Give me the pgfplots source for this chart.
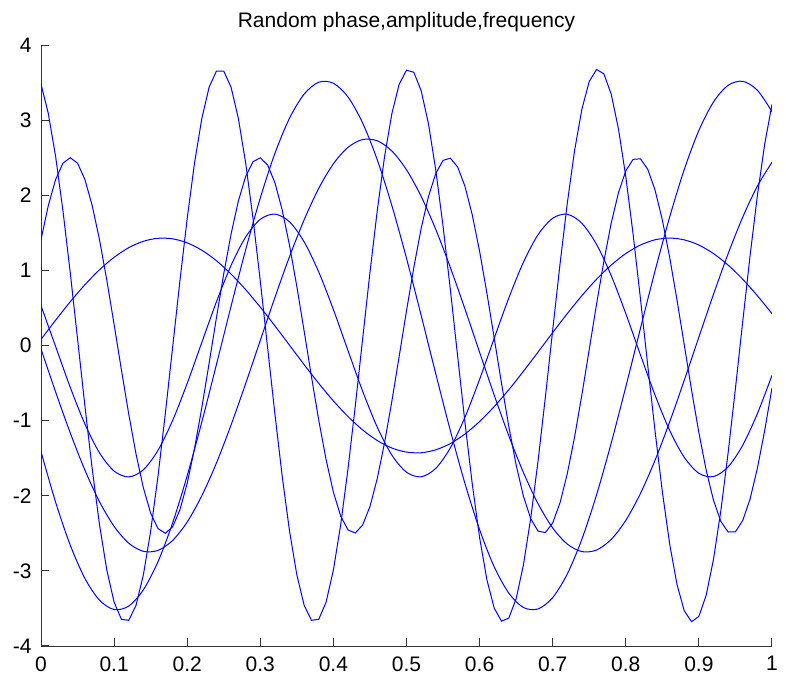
\documentclass[border=0pt]{standalone}
\usepackage{fontspec}
\setmainfont{Liberation Sans}
\usepackage{pgfplots}
\pgfplotsset{compat=1.18}
\begin{document}
\fontsize{10.5}{12.6}\selectfont
\begin{tikzpicture}
\begin{axis}[
  scale only axis,
  width=365.5pt, height=300.5pt,
  xmin=0, xmax=1, ymin=-4, ymax=4,
  axis x line=bottom, axis y line=left,
  axis line style={-, black!80},
  tick align=inside,
  major tick length=4pt,
  tick style={black!80, line width=0.5pt},
  xtick={0,0.1,0.2,0.3,0.4,0.5,0.6,0.7,0.8,0.9,1},
  xticklabels={0,0.1,0.2,0.3,0.4,0.5,0.6,0.7,0.8,0.9,1},
  ytick={-4,-3,-2,-1,0,1,2,3,4},
  yticklabels={-4,-3,-2,-1,0,1,2,3,4},
  xticklabel style={yshift=-1.5pt},
  yticklabel style={xshift=-1pt},
  title={Random phase,amplitude,frequency},
  title style={at={(0.5,1)}, anchor=base, yshift=3pt},
  cycle list={{blue, line width=0.5pt, mark=none}},
]
% fast curve, amplitude about 3.68
\addplot[blue, line width=0.5pt, mark=none] coordinates {
(0.00,3.478) (0.01,3.087) (0.02,2.515) (0.03,1.795) (0.04,0.970) (0.05,0.087) (0.06,-0.800) (0.07,-1.640) (0.08,-2.384) (0.09,-2.989)
(0.10,-3.417) (0.11,-3.645) (0.12,-3.659) (0.13,-3.459) (0.14,-3.055) (0.15,-2.472) (0.16,-1.744) (0.17,-0.913) (0.18,-0.029) (0.19,0.857)
(0.20,1.693) (0.21,2.429) (0.22,3.022) (0.23,3.439) (0.24,3.653) (0.25,3.653) (0.26,3.438) (0.27,3.022) (0.28,2.429) (0.29,1.693)
(0.30,0.857) (0.31,-0.029) (0.32,-0.913) (0.33,-1.744) (0.34,-2.472) (0.35,-3.055) (0.36,-3.459) (0.37,-3.659) (0.38,-3.645) (0.39,-3.417)
(0.40,-2.989) (0.41,-2.384) (0.42,-1.640) (0.43,-0.800) (0.44,0.088) (0.45,0.970) (0.46,1.795) (0.47,2.515) (0.48,3.087) (0.49,3.478)
(0.50,3.665) (0.51,3.637) (0.52,3.395) (0.53,2.954) (0.54,2.340) (0.55,1.588) (0.56,0.743) (0.57,-0.146) (0.58,-1.026) (0.59,-1.846)
(0.60,-2.557) (0.61,-3.119) (0.62,-3.497) (0.63,-3.670) (0.64,-3.628) (0.65,-3.372) (0.66,-2.919) (0.67,-2.296) (0.68,-1.535) (0.69,-0.686)
(0.70,0.204) (0.71,1.082) (0.72,1.896) (0.73,2.599) (0.74,3.149) (0.75,3.515) (0.76,3.674) (0.77,3.617) (0.78,3.348) (0.79,2.883)
(0.80,2.248) (0.81,1.482) (0.82,0.628) (0.83,-0.262) (0.84,-1.137) (0.85,-1.946) (0.86,-2.641) (0.87,-3.179) (0.88,-3.532) (0.89,-3.677)
(0.90,-3.606) (0.91,-3.324) (0.92,-2.846) (0.93,-2.202) (0.94,-1.428) (0.95,-0.571) (0.96,0.321) (0.97,1.193) (0.98,1.995) (0.99,2.680)
(1.00,3.208)
};
% fast curve, amplitude about 2.5
\addplot[blue, line width=0.5pt, mark=none] coordinates {
(0.00,1.409) (0.01,1.864) (0.02,2.210) (0.03,2.427) (0.04,2.500) (0.05,2.427) (0.06,2.211) (0.07,1.864) (0.08,1.409) (0.09,0.870)
(0.10,0.280) (0.11,-0.325) (0.12,-0.913) (0.13,-1.446) (0.14,-1.894) (0.15,-2.232) (0.16,-2.437) (0.17,-2.500) (0.18,-2.415) (0.19,-2.189)
(0.20,-1.834) (0.21,-1.371) (0.22,-0.828) (0.23,-0.235) (0.24,0.371) (0.25,0.955) (0.26,1.483) (0.27,1.924) (0.28,2.251) (0.29,2.447)
(0.30,2.498) (0.31,2.403) (0.32,2.167) (0.33,1.803) (0.34,1.333) (0.35,0.784) (0.36,0.190) (0.37,-0.416) (0.38,-0.997) (0.39,-1.519)
(0.40,-1.953) (0.41,-2.271) (0.42,-2.456) (0.43,-2.496) (0.44,-2.390) (0.45,-2.144) (0.46,-1.771) (0.47,-1.293) (0.48,-0.741) (0.49,-0.144)
(0.50,0.461) (0.51,1.038) (0.52,1.555) (0.53,1.981) (0.54,2.289) (0.55,2.464) (0.56,2.493) (0.57,2.376) (0.58,2.119) (0.59,1.738)
(0.60,1.255) (0.61,0.697) (0.62,0.099) (0.63,-0.505) (0.64,-1.080) (0.65,-1.591) (0.66,-2.008) (0.67,-2.307) (0.68,-2.471) (0.69,-2.490)
(0.70,-2.362) (0.71,-2.095) (0.72,-1.705) (0.73,-1.215) (0.74,-0.653) (0.75,-0.053) (0.76,0.550) (0.77,1.120) (0.78,1.626) (0.79,2.035)
(0.80,2.325) (0.81,2.478) (0.82,2.485) (0.83,2.347) (0.84,2.070) (0.85,1.671) (0.86,1.175) (0.87,0.609) (0.88,0.008) (0.89,-0.594)
(0.90,-1.162) (0.91,-1.660) (0.92,-2.061) (0.93,-2.341) (0.94,-2.483) (0.95,-2.480) (0.96,-2.330) (0.97,-2.044) (0.98,-1.636) (0.99,-1.134)
(1.00,-0.565)
};
% amplitude about 3.5
\addplot[blue, line width=0.5pt, mark=none, smooth] coordinates {
(0.00,-1.413) (0.02,-2.087) (0.04,-2.658) (0.06,-3.100) (0.08,-3.391) (0.10,-3.515) (0.12,-3.469) (0.14,-3.253) (0.16,-2.879) (0.18,-2.363)
(0.20,-1.733) (0.22,-1.018) (0.24,-0.253) (0.26,0.523) (0.28,1.275) (0.30,1.964) (0.32,2.558) (0.34,3.026) (0.36,3.347) (0.38,3.505)
(0.40,3.491) (0.42,3.308) (0.44,2.962) (0.46,2.472) (0.48,1.862) (0.50,1.161) (0.52,0.403) (0.54,-0.375) (0.56,-1.134) (0.58,-1.838)
(0.60,-2.452) (0.62,-2.947) (0.64,-3.297) (0.66,-3.488) (0.68,-3.507) (0.70,-3.356) (0.72,-3.041) (0.74,-2.577) (0.76,-1.988) (0.78,-1.301)
(0.80,-0.551) (0.82,0.225) (0.84,0.992) (0.86,1.709) (0.88,2.343) (0.90,2.863) (0.92,3.242) (0.94,3.464) (0.96,3.517) (0.98,3.398)
(1.00,3.113)
};
% amplitude about 2.75
\addplot[blue, line width=0.5pt, mark=none, smooth] coordinates {
(0.00,-0.047) (0.02,-0.619) (0.04,-1.164) (0.06,-1.658) (0.08,-2.079) (0.10,-2.408) (0.12,-2.632) (0.14,-2.740) (0.16,-2.728) (0.18,-2.596)
(0.20,-2.350) (0.22,-2.000) (0.24,-1.564) (0.26,-1.058) (0.28,-0.506) (0.30,0.069) (0.32,0.640) (0.34,1.184) (0.36,1.674) (0.38,2.093)
(0.40,2.419) (0.42,2.638) (0.44,2.742) (0.46,2.725) (0.48,2.589) (0.50,2.339) (0.52,1.986) (0.54,1.546) (0.56,1.038) (0.58,0.485)
(0.60,-0.090) (0.62,-0.661) (0.64,-1.203) (0.66,-1.692) (0.68,-2.107) (0.70,-2.429) (0.72,-2.644) (0.74,-2.744) (0.76,-2.723) (0.78,-2.582)
(0.80,-2.328) (0.82,-1.971) (0.84,-1.528) (0.86,-1.018) (0.88,-0.463) (0.90,0.112) (0.92,0.682) (0.94,1.222) (0.96,1.709) (0.98,2.121)
(1.00,2.439)
};
% amplitude about 1.75
\addplot[blue, line width=0.5pt, mark=none, smooth] coordinates {
(0.00,0.530) (0.02,-0.014) (0.04,-0.557) (0.06,-1.044) (0.08,-1.429) (0.10,-1.672) (0.12,-1.750) (0.14,-1.655) (0.16,-1.396) (0.18,-0.999)
(0.20,-0.504) (0.22,0.041) (0.24,0.582) (0.26,1.066) (0.28,1.444) (0.30,1.680) (0.32,1.749) (0.34,1.646) (0.36,1.379) (0.38,0.977)
(0.40,0.478) (0.42,-0.069) (0.44,-0.608) (0.46,-1.088) (0.48,-1.460) (0.50,-1.687) (0.52,-1.748) (0.54,-1.636) (0.56,-1.363) (0.58,-0.954)
(0.60,-0.451) (0.62,0.096) (0.64,0.634) (0.66,1.109) (0.68,1.475) (0.70,1.694) (0.72,1.747) (0.74,1.626) (0.76,1.345) (0.78,0.931)
(0.80,0.425) (0.82,-0.124) (0.84,-0.660) (0.86,-1.130) (0.88,-1.489) (0.90,-1.701) (0.92,-1.745) (0.94,-1.616) (0.96,-1.327) (0.98,-0.907)
(1.00,-0.398)
};
% amplitude about 1.43
\addplot[blue, line width=0.5pt, mark=none, smooth] coordinates {
(0.00,0.081) (0.02,0.337) (0.04,0.582) (0.06,0.808) (0.08,1.008) (0.10,1.174) (0.12,1.302) (0.14,1.387) (0.16,1.427) (0.18,1.420)
(0.20,1.366) (0.22,1.268) (0.24,1.128) (0.26,0.951) (0.28,0.743) (0.30,0.510) (0.32,0.261) (0.34,0.003) (0.36,-0.255) (0.38,-0.505)
(0.40,-0.738) (0.42,-0.946) (0.44,-1.124) (0.46,-1.265) (0.48,-1.365) (0.50,-1.419) (0.52,-1.428) (0.54,-1.389) (0.56,-1.305) (0.58,-1.178)
(0.60,-1.012) (0.62,-0.813) (0.64,-0.588) (0.66,-0.343) (0.68,-0.087) (0.70,0.172) (0.72,0.425) (0.74,0.664) (0.76,0.882) (0.78,1.070)
(0.80,1.224) (0.82,1.337) (0.84,1.407) (0.86,1.430) (0.88,1.406) (0.90,1.337) (0.92,1.223) (0.94,1.070) (0.96,0.881) (0.98,0.663)
(1.00,0.424)
};
\coordinate (BL) at (rel axis cs:-0.0561,-0.0499);
\coordinate (TR) at (rel axis cs:1.0192,1.0749);
\end{axis}
\pgfresetboundingbox
\path (BL) rectangle (TR);
\end{tikzpicture}
\end{document}
